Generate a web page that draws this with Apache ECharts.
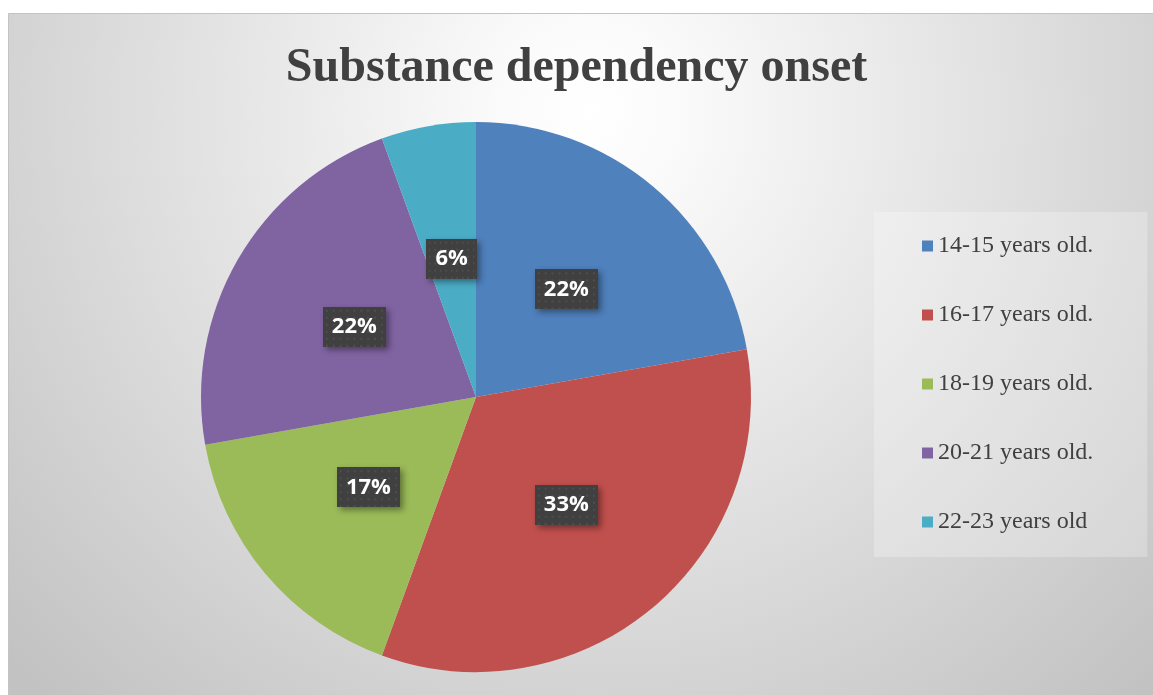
<!DOCTYPE html>
<html>
<head>
<meta charset="utf-8">
<script src="https://cdn.jsdelivr.net/npm/echarts@6/dist/echarts.min.js"></script>
<style>
html,body{margin:0;padding:0;background:#fff;}
#chart{width:1153px;height:695px;}
</style>
</head>
<body>
<div id="chart"></div>
<script>
const titleText = 'Substance dependency onset';
const categories = ['14-15 years old.', '16-17 years old.', '18-19 years old.', '20-21 years old.', '22-23 years old'];
const values = [4, 6, 3, 4, 1];
const colors = ['#4f81bd', '#c0504d', '#9bbb59', '#8064a2', '#4bacc6'];

// dotted dark pattern for label boxes
const pat = document.createElement('canvas');
pat.width = 64; pat.height = 40;
const pc = pat.getContext('2d');
pc.fillStyle = '#404040';
pc.fillRect(0, 0, 64, 40);
pc.fillStyle = '#4e4e4e';
for (let y = 3; y < 40; y += 7) {
  for (let x = 3; x < 64; x += 7) {
    pc.fillRect(x, y, 2, 2);
  }
}

const chart = echarts.init(document.getElementById('chart'));
chart.setOption({
  backgroundColor: '#ffffff',
  animation: false,
  graphic: [{
    type: 'rect',
    z: -10,
    silent: true,
    shape: { x: 8.5, y: 13.5, width: 1160, height: 700 },
    style: {
      fill: {
        type: 'radial', x: 590, y: 110, r: 800, global: true,
        colorStops: [
          { offset: 0, color: '#ffffff' },
          { offset: 0.12, color: '#fafafa' },
          { offset: 1, color: '#c2c2c2' }
        ]
      },
      stroke: '#c4c4c4',
      lineWidth: 1
    }
  }],
  title: {
    text: titleText,
    left: 'center',
    top: 40,
    textStyle: {
      fontFamily: 'Liberation Serif',
      fontWeight: 'bold',
      fontSize: 48,
      color: '#404040'
    }
  },
  legend: {
    orient: 'vertical',
    left: 874,
    top: 212,
    padding: [22, 54, 23, 48],
    itemGap: 45,
    icon: 'rect',
    itemWidth: 11,
    itemHeight: 11,
    backgroundColor: 'rgba(255,255,255,0.25)',
    data: categories,
    textStyle: {
      fontFamily: 'Liberation Serif',
      fontSize: 24,
      lineHeight: 24,
      color: '#404040'
    }
  },
  series: [{
    type: 'pie',
    center: [476, 397],
    radius: [0, 275],
    startAngle: 90,
    clockwise: true,
    percentPrecision: 0,
    data: categories.map((c, i) => ({ name: c, value: values[i], itemStyle: { color: colors[i] } })),
    itemStyle: { borderWidth: 0 },
    label: {
      show: true,
      position: 'inside',
      formatter: '{d}%',
      color: '#ffffff',
      fontFamily: 'Open Sans',
      fontWeight: 'bold',
      fontSize: 22,
      padding: [10, 9, 8, 9],
      backgroundColor: { image: pat },
      shadowColor: 'rgba(0,0,0,0.4)',
      shadowBlur: 6,
      shadowOffsetX: 3,
      shadowOffsetY: 3
    },
    labelLine: { show: false },
    emphasis: { disabled: true }
  }]
});
</script>
</body>
</html>
